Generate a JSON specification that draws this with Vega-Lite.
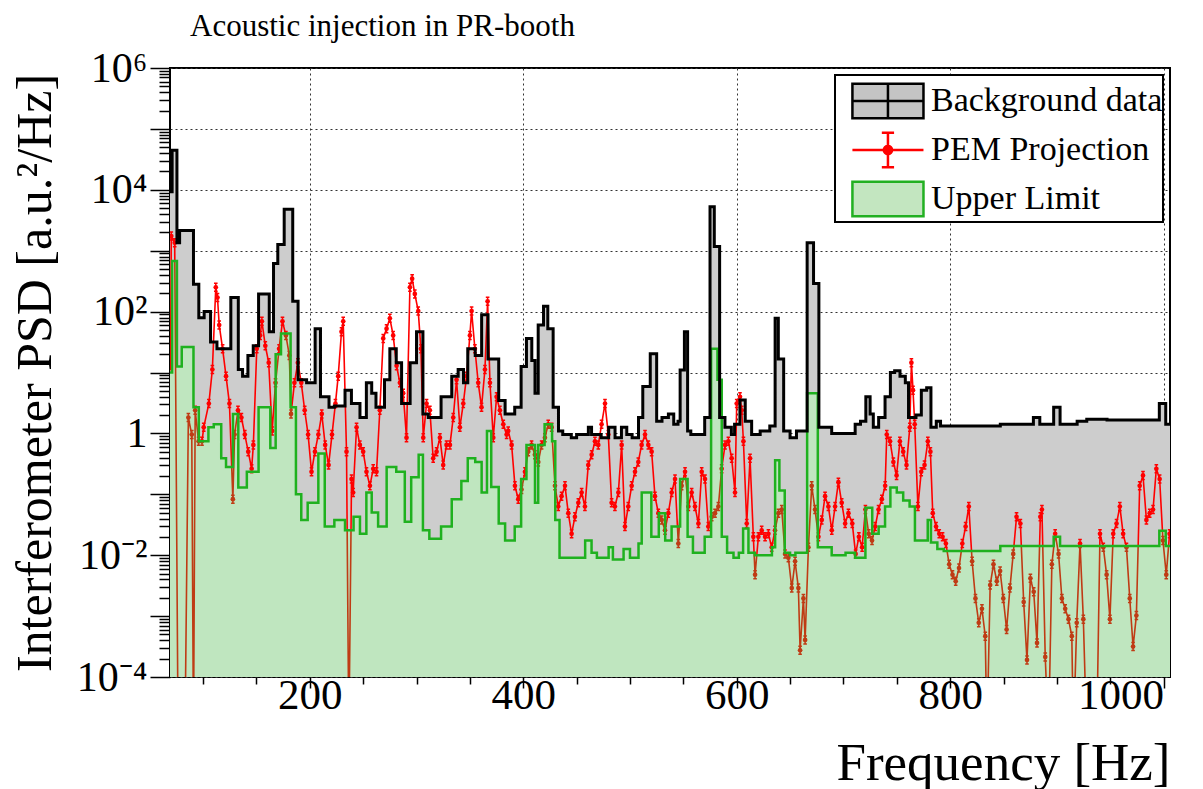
{
  "$schema": "https://vega.github.io/schema/vega-lite/v6.json",
  "width": 1000,
  "height": 609,
  "autosize": {"type": "none"},
  "padding": {"left": 170, "top": 68, "right": 33, "bottom": 112},
  "background": "white",
  "title": {"text": "Acoustic injection in PR-booth", "anchor": "start", "frame": "group", "dx": 20, "offset": 4, "font": "Liberation Serif", "fontSize": 31, "fontWeight": "normal", "color": "black"},
  "config": {
    "view": {"stroke": "black", "strokeWidth": 2},
    "font": "Liberation Serif",
    "axis": {"zindex": 1, "domain": false, "tickColor": "black", "labelColor": "black", "titleColor": "black", "labelFont": "Liberation Serif", "titleFont": "Liberation Serif", "titleFontWeight": "normal", "gridColor": "#333333", "gridDash": [2, 3], "gridOpacity": 1, "gridWidth": 1},
    "legend": {"orient": "top-right", "offset": 7, "labelFont": "Liberation Serif", "labelFontSize": 34, "labelColor": "black", "symbolSize": 2401, "symbolStrokeWidth": 2.5, "strokeColor": "black", "strokeWidth": 2, "fillColor": "white", "padding": 0, "rowPadding": 0, "labelOffset": 44, "labelLimit": 500, "symbolOpacity": 1}
  },
  "datasets": {
    "bg": [
      {"f":69,"v":9330},{"f":71,"v":44700},{"f":75.5,"v":1350},{"f":78,"v":2140},{"f":91,"v":282},{"f":96,"v":79.4},{"f":101,"v":100},{"f":107,"v":31.6},{"f":113,"v":24.5},{"f":126,"v":170},{"f":133,"v":11.2},{"f":137,"v":8.71},{"f":142,"v":19.1},{"f":147,"v":27.5},{"f":152,"v":195},{"f":162,"v":46.8},{"f":166,"v":617},{"f":170,"v":1260},{"f":176,"v":4790},{"f":184,"v":148},{"f":189,"v":7.59},{"f":197,"v":6.76},{"f":205,"v":52.5},{"f":210,"v":3.98},{"f":218,"v":2.69},
      {"f":223,"v":2.82},{"f":233,"v":5.13},{"f":239,"v":3.09},{"f":247,"v":1.82},{"f":253,"v":6.76},{"f":258,"v":4.57},{"f":262,"v":2.69},{"f":270,"v":7.59},{"f":275,"v":24.5},{"f":281,"v":14.5},{"f":286,"v":3.09},{"f":294,"v":14.5},{"f":300,"v":46.8},{"f":306,"v":2.09},{"f":311,"v":1.82},{"f":323,"v":3.98},{"f":333,"v":8.71},{"f":339,"v":11.2},{"f":344,"v":6.76},{"f":348,"v":24.5},{"f":355,"v":19.1},{"f":361,"v":89.1},{"f":367,"v":16.6},{"f":377,"v":3.47},{"f":383,"v":2.09},
      {"f":392,"v":2.69},{"f":398,"v":12.6},{"f":403,"v":36.3},{"f":408,"v":15.8},{"f":411,"v":4.57},{"f":414,"v":60.3},{"f":419,"v":123},{"f":423,"v":52.5},{"f":428,"v":2.69},{"f":433,"v":1.1},{"f":437,"v":0.955},{"f":445,"v":0.851},{"f":450,"v":0.955},{"f":461,"v":1.26},{"f":464,"v":0.955},{"f":473,"v":0.851},{"f":480,"v":1.26},{"f":486,"v":0.851},{"f":492,"v":1.26},{"f":497,"v":0.955},{"f":502,"v":0.851},{"f":508,"v":1.82},{"f":512,"v":5.89},{"f":519,"v":20.4},{"f":525,"v":1.58},{"f":530,"v":1.82},{"f":536,"v":2.09},{"f":541,"v":1.41},
      {"f":545,"v":1.58},{"f":547,"v":11},{"f":551,"v":46.8},{"f":554,"v":1.1},{"f":557,"v":0.955},{"f":570,"v":1.82},{"f":575,"v":5250},{"f":579,"v":1170},{"f":584,"v":1.82},{"f":589,"v":1.26},{"f":595,"v":0.955},{"f":598,"v":1.41},{"f":603,"v":3.55},{"f":608,"v":1.58},{"f":614,"v":0.955},{"f":622,"v":1.1},{"f":631,"v":1.32},{"f":636,"v":77.6},{"f":639,"v":16.6},{"f":644,"v":1.1},{"f":650,"v":0.851},{"f":656,"v":1.1},{"f":666,"v":1350},{"f":672,"v":288},{"f":677,"v":1.26},{"f":689,"v":1.0},
      {"f":711,"v":1.41},{"f":716,"v":1.58},{"f":721,"v":3.98},{"f":725,"v":2.09},{"f":728,"v":1.26},{"f":733,"v":1.82},{"f":739,"v":3.98},{"f":744,"v":10},{"f":748,"v":10.7},{"f":753,"v":8.71},{"f":758,"v":6.76},{"f":761,"v":1.82},{"f":768,"v":2.0},{"f":773,"v":5.13},{"f":778,"v":5.62},{"f":782,"v":1.26},{"f":787,"v":1.58},{"f":791,"v":1.32},
      {"f":847,"v":1.41},{"f":878,"v":1.82},{"f":884,"v":1.41},{"f":897,"v":2.69},{"f":903,"v":1.41},{"f":919,"v":1.58},{"f":928,"v":1.7},{"f":947,"v":1.66},{"f":996,"v":3.09},{"f":1002,"v":1.41},{"f":1006,"v":1.41}
    ],
    "ul": [
      {"f":69,"v":10},{"f":71,"v":676},{"f":75.5,"v":12.6},{"f":80,"v":26.3},{"f":91,"v":2.69},{"f":96,"v":0.741},{"f":105,"v":1.26},{"f":110,"v":1.41},{"f":117,"v":0.389},{"f":121.5,"v":0.282},{"f":128,"v":2.09},{"f":133,"v":0.129},{"f":141,"v":0.234},{"f":152,"v":2.69},{"f":163,"v":0.575},{"f":168,"v":20},{"f":173,"v":43.7},{"f":182,"v":2.69},{"f":187,"v":0.1},{"f":192,"v":0.038},{"f":198,"v":0.0724},{"f":208,"v":0.468},{"f":214,"v":0.0295},
      {"f":223,"v":0.038},{"f":233,"v":0.0257},{"f":241,"v":0.0427},{"f":247,"v":0.0224},{"f":253,"v":0.107},{"f":258,"v":0.0501},{"f":264,"v":0.0295},{"f":272,"v":0.282},{"f":281,"v":0.234},{"f":289,"v":0.0355},{"f":295,"v":0.191},{"f":302,"v":0.447},{"f":306,"v":0.0257},{"f":312,"v":0.0186},{"f":323,"v":0.0295},{"f":333,"v":0.0832},{"f":342,"v":0.166},{"f":348,"v":0.389},{"f":355,"v":0.339},{"f":361,"v":0.107},{"f":366,"v":1.1},{"f":370,"v":0.132},{"f":377,"v":0.0331},{"f":383,"v":0.0174},
      {"f":392,"v":0.0295},{"f":398,"v":0.178},{"f":403,"v":0.646},{"f":411,"v":0.0724},{"f":414,"v":0.646},{"f":420,"v":1.41},{"f":427,"v":0.741},{"f":430,"v":0.038},{"f":434,"v":0.00912},{"f":458,"v":0.0174},{"f":464,"v":0.011},{"f":469,"v":0.00912},{"f":480,"v":0.0135},{"f":484,"v":0.00851},{"f":494,"v":0.0126},{"f":500,"v":0.00912},{"f":508,"v":0.0155},{"f":511,"v":0.107},{"f":520,"v":0.02},{"f":527,"v":0.049},{"f":533,"v":0.0174},{"f":539,"v":0.0295},
      {"f":547,"v":0.178},{"f":554,"v":0.02},{"f":559,"v":0.011},{"f":570,"v":0.02},{"f":576,"v":24.5},{"f":582,"v":7.59},{"f":586,"v":0.02},{"f":591,"v":0.011},{"f":597,"v":0.00912},{"f":602,"v":0.011},{"f":606,"v":0.0275},{"f":611,"v":0.011},{"f":617,"v":0.01},{"f":633,"v":0.0135},{"f":636,"v":0.363},{"f":640,"v":0.115},{"f":645,"v":0.011},{"f":650,"v":0.01},{"f":655,"v":0.011},{"f":666,"v":4.57},{"f":676,"v":0.0135},{"f":689,"v":0.01},
      {"f":702,"v":0.011},{"f":711,"v":0.00912},{"f":720.6,"v":0.0603},{"f":727,"v":0.0224},{"f":733,"v":0.0295},{"f":739,"v":0.0631},{"f":744,"v":0.129},{"f":750,"v":0.107},{"f":756,"v":0.0794},{"f":762,"v":0.0631},{"f":767,"v":0.0174},{"f":779,"v":0.038},{"f":782,"v":0.0162},{"f":788,"v":0.0126},{"f":794,"v":0.0117},
      {"f":847,"v":0.0141},{"f":897,"v":0.02},{"f":903,"v":0.0141},{"f":996,"v":0.0251},{"f":1002,"v":0.0141},{"f":1006,"v":0.0141}
    ],
    "pem": [
      {"f":69.5,"v":12.9},{"f":70.2,"v":1740},{"f":73.4,"v":1350},{"f":76.6,"v":1e-5},{"f":79.8,"v":1e-5},{"f":83,"v":1e-5},{"f":86.2,"v":1.82},{"f":89.4,"v":0.955},{"f":91,"v":1e-5},{"f":92.6,"v":2.4},{"f":95.8,"v":0.741},{"f":99,"v":0.741},{"f":100.6,"v":1.26},{"f":105.4,"v":3.09},{"f":108.7,"v":11.2},{"f":111.9,"v":251},{"f":113.5,"v":170},{"f":115.1,"v":60.3},{"f":118.3,"v":24.5},{"f":121.5,"v":8.71},{"f":124.7,"v":3.09},{"f":127.9,"v":0.0832},{"f":129.5,"v":0.955},{"f":132.7,"v":2.4},{"f":135.9,"v":1.82},{"f":139.1,"v":0.955},{"f":142.3,"v":0.501},{"f":145.5,"v":0.263},{"f":147.1,"v":0.646},{"f":150.3,"v":24.5},{"f":153.5,"v":40.7},{"f":155.1,"v":69.2},{"f":158.3,"v":27.5},{"f":161.5,"v":14.5},{"f":164.7,"v":1.1},{"f":167.9,"v":6.76},{"f":171.2,"v":24.5},{"f":174.4,"v":69.2},{"f":177.6,"v":40.7},{"f":180.8,"v":19.1},{"f":182.4,"v":2.09},{"f":185.6,"v":6.76},{"f":188.8,"v":14.5},{"f":192,"v":6.76},{"f":195.2,"v":2.4},{"f":198.4,"v":0.955},{"f":201.6,"v":0.234},{"f":204.8,"v":0.501},{"f":208,"v":0.955},{"f":211.2,"v":2.09},{"f":214.4,"v":0.646},{"f":217.6,"v":0.302},{"f":220.8,"v":0.955},{"f":224,"v":3.09},
      {"f":226.6,"v":8.71},{"f":229.7,"v":46.8},{"f":231.3,"v":69.2},{"f":234.4,"v":0.501},{"f":236.6,"v":1e-5},{"f":239.1,"v":0.178},{"f":240.6,"v":0.107},{"f":243.8,"v":1.26},{"f":246.9,"v":0.646},{"f":250,"v":0.501},{"f":253.1,"v":0.234},{"f":256.3,"v":0.138},{"f":259.4,"v":0.263},{"f":262.5,"v":0.234},{"f":265.6,"v":2.4},{"f":268.8,"v":36.3},{"f":271.9,"v":52.5},{"f":275,"v":77.6},{"f":278.1,"v":40.7},{"f":281.3,"v":12.9},{"f":284.4,"v":6.76},{"f":287.5,"v":4.57},{"f":290.6,"v":0.851},{"f":293.8,"v":251},{"f":295.9,"v":347},{"f":298.4,"v":195},{"f":301.6,"v":102},{"f":304.1,"v":24.5},{"f":306.3,"v":0.851},{"f":309.4,"v":3.09},{"f":312.5,"v":2.4},{"f":315.6,"v":0.389},{"f":318.8,"v":0.501},{"f":321.9,"v":0.851},{"f":325,"v":0.302},{"f":328.1,"v":0.646},{"f":331.3,"v":0.646},{"f":334.4,"v":1.82},{"f":337.5,"v":7.59},{"f":340.6,"v":1.26},{"f":343.8,"v":3.09},{"f":346.9,"v":8.71},{"f":350,"v":40.7},{"f":351.6,"v":102},{"f":354.7,"v":24.5},{"f":357.8,"v":6.76},{"f":360.9,"v":2.69},{"f":364.1,"v":11.2},{"f":366.6,"v":148},{"f":368.8,"v":6.76},{"f":371.9,"v":0.851},{"f":375,"v":3.98},{"f":378.1,"v":2.4},{"f":381.3,"v":1.41},{"f":384.4,"v":0.955},
      {"f":385.9,"v":1.1},{"f":389.1,"v":0.646},{"f":392.2,"v":0.138},{"f":395.3,"v":0.0832},{"f":398.4,"v":0.12},{"f":401.6,"v":0.234},{"f":404.7,"v":0.501},{"f":407.8,"v":0.646},{"f":410.9,"v":0.447},{"f":414.1,"v":0.339},{"f":417.2,"v":0.646},{"f":420.3,"v":0.851},{"f":423.4,"v":1.41},{"f":426.6,"v":1.26},{"f":429.7,"v":0.138},{"f":432.8,"v":0.0631},{"f":435.9,"v":0.0933},{"f":439.1,"v":0.138},{"f":442.2,"v":0.049},{"f":445.3,"v":0.0224},{"f":448.4,"v":0.0427},{"f":451.6,"v":0.0724},{"f":454.7,"v":0.107},{"f":457.8,"v":0.0631},{"f":460.9,"v":0.302},{"f":464.1,"v":0.447},{"f":467.2,"v":0.741},{"f":470.3,"v":0.646},{"f":473.4,"v":1.41},{"f":476.6,"v":3.09},{"f":479.7,"v":0.955},{"f":482.8,"v":0.0724},{"f":485.9,"v":0.0631},{"f":489.1,"v":0.107},{"f":492.2,"v":0.646},{"f":495.3,"v":0.0295},{"f":498.4,"v":0.0631},{"f":501.6,"v":0.138},{"f":504.7,"v":0.234},{"f":507.8,"v":0.339},{"f":510.9,"v":0.646},{"f":514.1,"v":0.955},{"f":517.2,"v":0.646},{"f":520.3,"v":0.501},{"f":523.4,"v":0.0933},{"f":526.6,"v":0.049},{"f":529.7,"v":0.038},{"f":532.8,"v":0.0257},{"f":535.9,"v":0.049},{"f":539.1,"v":0.107},{"f":542.2,"v":0.178},{"f":545.3,"v":0.0155},
      {"f":548.4,"v":0.138},{"f":551.6,"v":0.234},{"f":554.7,"v":0.0631},{"f":557.8,"v":0.107},{"f":560.9,"v":0.0631},{"f":564.1,"v":0.0331},{"f":567.2,"v":0.234},{"f":570.3,"v":0.178},{"f":573.4,"v":0.0295},{"f":576.6,"v":0.0427},{"f":579.7,"v":0.049},{"f":582.8,"v":0.0631},{"f":585.9,"v":0.263},{"f":589.1,"v":0.646},{"f":592.2,"v":0.741},{"f":595.3,"v":0.389},{"f":598.4,"v":0.107},{"f":600,"v":3.09},{"f":603.1,"v":3.98},{"f":604.7,"v":2.4},{"f":606.3,"v":0.741},{"f":609.4,"v":0.0331},{"f":612.5,"v":0.389},{"f":615.6,"v":0.02},{"f":617.2,"v":0.00479},{"f":620.3,"v":0.02},{"f":623.4,"v":0.0257},{"f":626.6,"v":0.02},{"f":629.7,"v":0.0224},{"f":632.8,"v":0.0135},{"f":635.9,"v":0.0257},{"f":639.1,"v":0.049},{"f":642.2,"v":0.0562},{"f":645.3,"v":0.0105},{"f":648.4,"v":0.00912},{"f":651.6,"v":0.00288},{"f":654.7,"v":0.00794},{"f":657.8,"v":0.00288},{"f":659.4,"v":0.000275},{"f":662.5,"v":0.00195},{"f":664.1,"v":0.000407},{"f":667.2,"v":0.0135},{"f":670.3,"v":0.138},{"f":673.4,"v":0.0562},{"f":676.6,"v":0.02},{"f":679.7,"v":0.038},{"f":682.8,"v":0.0933},{"f":685.9,"v":0.0631},{"f":689.1,"v":0.0257},{"f":692.2,"v":0.0631},{"f":695.3,"v":0.158},{"f":698.4,"v":0.0724},{"f":701.6,"v":0.0331},{"f":704.7,"v":0.049},
      {"f":708.3,"v":0.0331},{"f":711.4,"v":0.0105},{"f":714.5,"v":0.02},{"f":717.5,"v":0.0135},{"f":720.6,"v":0.0562},{"f":723.7,"v":0.0224},{"f":726.8,"v":0.0174},{"f":729.8,"v":0.0295},{"f":732.9,"v":0.0562},{"f":736,"v":0.0832},{"f":739.1,"v":0.138},{"f":740.6,"v":0.955},{"f":743.7,"v":0.741},{"f":746.8,"v":0.339},{"f":749.8,"v":0.204},{"f":752.9,"v":0.741},{"f":756,"v":0.501},{"f":759.1,"v":0.302},{"f":762.2,"v":1.26},{"f":763.7,"v":14.5},{"f":765.2,"v":5.13},{"f":766.8,"v":1.41},{"f":769.8,"v":0.0631},{"f":772.9,"v":0.234},{"f":776,"v":0.302},{"f":779.1,"v":0.741},{"f":781.5,"v":0.501},{"f":783.7,"v":0.049},{"f":786.8,"v":0.0295},{"f":789.8,"v":0.0224},{"f":792.9,"v":0.02},{"f":796,"v":0.0155},{"f":799.1,"v":0.00708},{"f":802.2,"v":0.00479},{"f":805.2,"v":0.00372},{"f":808.3,"v":0.00617},{"f":811.4,"v":0.0155},{"f":814.5,"v":0.0295},{"f":817.5,"v":0.0631},{"f":820.6,"v":0.00794},{"f":823.7,"v":0.00195},{"f":826.8,"v":0.000776},{"f":829.8,"v":0.00132},{"f":832.9,"v":0.000468},{"f":834.5,"v":1e-5},{"f":837.5,"v":0.00324},{"f":840.6,"v":0.00708},{"f":843.7,"v":0.00372},{"f":846.8,"v":0.0055},{"f":849.8,"v":0.00195},{"f":852.9,"v":0.000603},{"f":856,"v":0.00288},{"f":859.1,"v":0.0105},{"f":862.2,"v":0.0427},
      {"f":865.8,"v":0.0331},{"f":868.9,"v":0.0017},{"f":872,"v":0.000191},{"f":875.2,"v":0.00417},{"f":878.3,"v":0.00251},{"f":881.4,"v":0.000363},{"f":884.5,"v":0.0427},{"f":886,"v":0.0562},{"f":889.1,"v":0.000214},{"f":892.2,"v":1e-5},{"f":895.3,"v":0.00708},{"f":898.4,"v":0.0224},{"f":901.6,"v":0.0105},{"f":904.7,"v":0.00195},{"f":907.8,"v":0.00132},{"f":910.9,"v":0.000891},{"f":914,"v":0.000468},{"f":915.5,"v":1e-5},{"f":918.6,"v":0.000776},{"f":921.7,"v":0.0155},{"f":924.8,"v":0.000891},{"f":928,"v":1e-5},{"f":932.6,"v":1e-5},{"f":937.3,"v":1e-5},{"f":940.4,"v":0.0224},{"f":943.5,"v":0.0135},{"f":946.6,"v":0.00479},{"f":949.7,"v":0.000891},{"f":952.8,"v":0.0224},{"f":955.9,"v":0.0331},{"f":959,"v":0.0631},{"f":962.1,"v":0.0224},{"f":965.2,"v":0.0135},{"f":968.3,"v":0.00195},{"f":971.4,"v":0.000316},{"f":974.5,"v":0.00102},{"f":977.6,"v":0.138},{"f":980.7,"v":0.204},{"f":983.9,"v":0.038},{"f":987,"v":0.049},{"f":990.1,"v":0.0562},{"f":993.2,"v":0.263},{"f":996.3,"v":0.178},{"f":999.4,"v":0.0174},{"f":1002.5,"v":0.00479},{"f":1005.6,"v":0.0224}
    ]
  },
  "layer": [
    {
      "data": {"name": "bg"},
      "mark": {"type": "area", "interpolate": "step-after", "fill": "#cdcdcd", "clip": true},
      "encoding": {
        "x": {"field": "f", "type": "quantitative", "scale": {"domain": [69, 1006], "nice": false, "zero": false},
              "axis": {"orient": "bottom", "offset": 0, "values": [100,150,200,250,300,350,400,450,500,550,600,650,700,750,800,850,900,950,1000], "labels": false, "grid": false,
                       "tickSize": {"condition": {"test": "datum.value % 200 == 0", "value": 11}, "value": 7}, "tickWidth": 1.5, "title": null}},
        "y": {"field": "v", "type": "quantitative", "scale": {"type": "log", "domain": [0.0001, 1000000], "nice": false},
              "axis": {"orient": "left", "offset": 0, "values": [0.0002,0.0003,0.0004,0.0005,0.0006,0.0007,0.0008,0.0009,0.002,0.003,0.004,0.005,0.006,0.007,0.008,0.009,0.02,0.03,0.04,0.05,0.06,0.07,0.08,0.09,0.2,0.3,0.4,0.5,0.6,0.7,0.8,0.9,2,3,4,5,6,7,8,9,20,30,40,50,60,70,80,90,200,300,400,500,600,700,800,900,2000,3000,4000,5000,6000,7000,8000,9000,20000,30000,40000,50000,60000,70000,80000,90000,200000,300000,400000,500000,600000,700000,800000,900000], "labels": false, "grid": false, "tickSize": 11, "tickWidth": 1.5, "title": null}},
        "y2": {"datum": 0.0001}
      }
    },
    {
      "data": {"name": "ul"},
      "mark": {"type": "area", "interpolate": "step-after", "fill": "white", "clip": true},
      "encoding": {
        "x": {"field": "f", "type": "quantitative", "scale": {"domain": [69, 1006], "nice": false, "zero": false},
              "axis": {"orient": "bottom", "offset": 0, "values": [200, 400, 600, 800, 1000], "format": "d", "grid": true, "ticks": false, "tickSize": 0, "labelFontSize": 43, "labelPadding": -3,
                       "labelAlign": {"condition": {"test": "datum.value == 1000", "value": "right"}, "value": "center"},
                       "title": "Frequency [Hz]", "titleFontSize": 53, "titleAnchor": "end", "titlePadding": 20}},
        "y": {"field": "v", "type": "quantitative", "scale": {"type": "log", "domain": [0.0001, 1000000], "nice": false},
              "axis": {"orient": "left", "offset": 0, "values": [0.0001,0.001,0.01,0.1,1,10,100,1000,10000,100000,1000000], "grid": true, "tickSize": 20, "tickWidth": 1.5, "labelFontSize": 42, "labelPadding": 3,
                       "labelExpr": "datum.value == 1000000 ? '10⁶' : datum.value == 10000 ? '10⁴' : datum.value == 100 ? '10²' : datum.value == 1 ? '1' : datum.value == 0.01 ? '10⁻²' : datum.value == 0.0001 ? '10⁻⁴' : ''",
                       "title": "Interferometer PSD [a.u.²/Hz]", "titleFontSize": 50, "titlePadding": 16}},
        "y2": {"datum": 0.0001}
      }
    },
    {
      "data": {"name": "pem"},
      "mark": {"type": "line", "stroke": "#ff0000", "strokeWidth": 1.6, "clip": true},
      "encoding": {
        "x": {"field": "f", "type": "quantitative", "scale": {"domain": [69, 1006], "nice": false, "zero": false}, "axis": null},
        "y": {"field": "v", "type": "quantitative", "scale": {"type": "log", "domain": [0.0001, 1000000], "nice": false}, "axis": null}
      }
    },
    {
      "data": {"name": "pem"},
      "mark": {"type": "point", "shape": "M0,-1V1M-0.45,-1H0.45M-0.45,1H0.45", "size": 64, "stroke": "#ff0000", "strokeWidth": 1.5, "opacity": 1, "clip": true},
      "encoding": {
        "x": {"field": "f", "type": "quantitative", "scale": {"domain": [69, 1006], "nice": false, "zero": false}, "axis": null},
        "y": {"field": "v", "type": "quantitative", "scale": {"type": "log", "domain": [0.0001, 1000000], "nice": false}, "axis": null}
      }
    },
    {
      "data": {"name": "pem"},
      "mark": {"type": "circle", "fill": "#ff0000", "size": 22, "opacity": 1, "clip": true},
      "encoding": {
        "x": {"field": "f", "type": "quantitative", "scale": {"domain": [69, 1006], "nice": false, "zero": false}, "axis": null},
        "y": {"field": "v", "type": "quantitative", "scale": {"type": "log", "domain": [0.0001, 1000000], "nice": false}, "axis": null}
      }
    },
    {
      "data": {"name": "ul"},
      "mark": {"type": "area", "interpolate": "step-after", "fill": "#3cb43c", "opacity": 0.33, "clip": true},
      "encoding": {
        "x": {"field": "f", "type": "quantitative", "scale": {"domain": [69, 1006], "nice": false, "zero": false}, "axis": null},
        "y": {"field": "v", "type": "quantitative", "scale": {"type": "log", "domain": [0.0001, 1000000], "nice": false}, "axis": null},
        "y2": {"datum": 0.0001}
      }
    },
    {
      "data": {"name": "ul"},
      "mark": {"type": "line", "interpolate": "step-after", "stroke": "#1fb11f", "strokeWidth": 2.5, "clip": true},
      "encoding": {
        "x": {"field": "f", "type": "quantitative", "scale": {"domain": [69, 1006], "nice": false, "zero": false}, "axis": null},
        "y": {"field": "v", "type": "quantitative", "scale": {"type": "log", "domain": [0.0001, 1000000], "nice": false}, "axis": null}
      }
    },
    {
      "data": {"name": "bg"},
      "mark": {"type": "line", "interpolate": "step-after", "stroke": "#000000", "strokeWidth": 3, "clip": true},
      "encoding": {
        "x": {"field": "f", "type": "quantitative", "scale": {"domain": [69, 1006], "nice": false, "zero": false}, "axis": null},
        "y": {"field": "v", "type": "quantitative", "scale": {"type": "log", "domain": [0.0001, 1000000], "nice": false}, "axis": null}
      }
    },
    {
      "data": {"name": "pem"},
      "transform": [{"filter": "datum.v > 1e12"}],
      "mark": {"type": "point", "filled": true, "strokeWidth": 2.5, "opacity": 1, "clip": true},
      "encoding": {
        "x": {"field": "f", "type": "quantitative", "scale": {"domain": [69, 1006], "nice": false, "zero": false}, "axis": null},
        "y": {"field": "v", "type": "quantitative", "scale": {"type": "log", "domain": [0.0001, 1000000], "nice": false}, "axis": null},
        "fill": {"datum": "PEM Projection", "type": "nominal", "scale": {"domain": ["Background data", "PEM Projection", "Upper Limit"], "range": ["#c4c4c4", "#ff0000", "#c3e6c0"]},
                 "legend": {"title": null}},
        "stroke": {"datum": "PEM Projection", "type": "nominal", "scale": {"domain": ["Background data", "PEM Projection", "Upper Limit"], "range": ["#000000", "#ff0000", "#22b022"]},
                   "legend": {"title": null}},
        "shape": {"datum": "PEM Projection", "type": "nominal", "scale": {"domain": ["Background data", "PEM Projection", "Upper Limit"], "range": [
          "M-0.35,-0.7H2.55V0.7H-0.35ZM-0.35,0H2.55M1.1,-0.7V0.7",
          "M-0.35,0H2.55M1.1,-0.7V0.7M0.85,-0.7H1.35M0.85,0.7H1.35M1.27,0A0.17,0.17 0 1,1 0.93,0A0.17,0.17 0 1,1 1.27,0",
          "M-0.35,-0.7H2.55V0.7H-0.35Z"]},
                  "legend": {"title": null}}
      }
    }
  ],
  "resolve": {"axis": {"x": "independent", "y": "independent"}}
}
